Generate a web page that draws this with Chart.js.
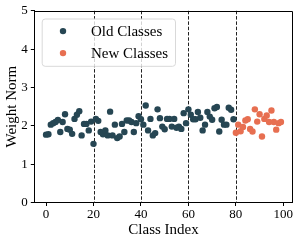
<!DOCTYPE html>
<html>
<head>
<meta charset="utf-8">
<script src="https://cdn.jsdelivr.net/npm/chart.js@4/dist/chart.umd.min.js"></script>
<style>
  body { margin: 0; background: #fff; }
  canvas { display: block; }
</style>
</head>
<body>
<canvas id="chart" width="299" height="243"></canvas>
<script>
// Weight norm of each class head, old classes 0-79, new classes 80-99
const oldNorms = [
    1.77, 1.78, 2.03, 2.07, 2.10, 2.15, 1.84, 2.10, 2.30, 1.92,
    1.90, 1.79, 2.18, 2.29, 2.38, 1.75, 2.05, 2.05, 1.88, 2.11,
    1.53, 2.18, 2.13, 1.84, 1.78, 1.88, 1.75, 2.37, 1.75, 2.03,
    1.68, 1.72, 2.05, 1.84, 2.14, 2.14, 2.10, 1.84, 2.07, 2.25,
    2.17, 2.03, 2.53, 1.88, 2.18, 1.75, 1.81, 2.43, 2.20, 1.98,
    1.91, 2.18, 2.18, 1.98, 2.18, 1.95, 1.98, 1.92, 2.33, 2.07,
    2.43, 2.29, 2.17, 2.17, 2.36, 2.21, 1.88, 2.03, 2.36, 2.24,
    2.16, 2.46, 2.49, 1.85, 2.16, 2.03, 2.03, 2.47, 2.42, 2.17
];
const newNorms = [
    1.82, 2.03, 1.86, 1.97, 2.14, 2.17, 1.92, 1.85, 2.43, 2.11,
    2.30, 1.72, 2.18, 2.27, 2.10, 2.40, 2.10, 1.90, 2.07, 2.10
];
const seriesLabels = ["Old Classes", "New Classes"];
const seriesColors = ["#264653", "#e76f51"];
const taskBoundaries = [20, 40, 60, 80];
const xTicks = [0, 20, 40, 60, 80, 100];
const yTicks = [0, 1, 2, 3, 4, 5];

const FONT = "'Liberation Serif', 'DejaVu Serif', serif";

const oldPoints = oldNorms.map((v, i) => ({x: i, y: v}));
const newPoints = newNorms.map((v, i) => ({x: oldNorms.length + i, y: v}));

// dashed task boundaries + top/right spines + legend box
const extras = {
    id: "extras",
    beforeDatasetsDraw(chart) {
        const {ctx, chartArea: a, scales: {x}} = chart;
        ctx.save();
        ctx.strokeStyle = "#222";
        ctx.lineWidth = 1;
        ctx.setLineDash([3.5, 1.8]);
        taskBoundaries.forEach(v => {
            const px = Math.round(x.getPixelForValue(v)) + 0.5;
            ctx.beginPath();
            ctx.moveTo(px, a.top);
            ctx.lineTo(px, a.bottom);
            ctx.stroke();
        });
        ctx.restore();
    },
    afterDraw(chart) {
        const {ctx, chartArea: a} = chart;
        ctx.save();
        ctx.strokeStyle = "#000";
        ctx.lineWidth = 1;
        ctx.beginPath();
        ctx.moveTo(Math.round(a.left) + 0.5, Math.round(a.top) + 0.5);
        ctx.lineTo(Math.round(a.right) - 0.5, Math.round(a.top) + 0.5);
        ctx.lineTo(Math.round(a.right) - 0.5, Math.round(a.bottom));
        ctx.stroke();

        // legend
        const lx = a.left + 7.4, ly = a.top + 7.7, lw = 133.3, lh = 47.3;
        ctx.fillStyle = "rgba(255,255,255,0.8)";
        ctx.strokeStyle = "#d9d9d9";
        ctx.beginPath();
        ctx.roundRect(lx + 0.5, ly + 0.5, lw, lh, 3);
        ctx.fill();
        ctx.stroke();
        ctx.font = "15px " + FONT;
        ctx.textBaseline = "middle";
        seriesLabels.forEach((label, i) => {
            const cy = a.top + 20.3 + i * 22;
            ctx.fillStyle = seriesColors[i];
            ctx.beginPath();
            ctx.arc(a.left + 28.7, cy, 3.2, 0, Math.PI * 2);
            ctx.fill();
            ctx.fillStyle = "#000";
            ctx.fillText(label, a.left + 56.7, cy + 1);
        });
        ctx.restore();
    }
};

new Chart(document.getElementById("chart"), {
    type: "scatter",
    data: {
        datasets: [
            {label: seriesLabels[0], data: oldPoints, backgroundColor: seriesColors[0]},
            {label: seriesLabels[1], data: newPoints, backgroundColor: seriesColors[1]},
        ],
    },
    options: {
        responsive: false,
        animation: false,
        layout: {padding: {top: 10, right: 6.3, left: 0, bottom: 0}},
        elements: {point: {radius: 3.2, borderWidth: 0, hoverRadius: 3.2}},
        plugins: {legend: {display: false}, tooltip: {enabled: false}},
        scales: {
            x: {
                type: "linear",
                min: -4.95,
                max: 103.95,
                afterBuildTicks: s => { s.ticks = xTicks.map(v => ({value: v})); },
                afterFit: s => { s.height = 40.5; },
                border: {display: true, color: "#000", width: 1},
                grid: {drawOnChartArea: false, color: "#000", tickLength: 3.5},
                ticks: {color: "#000", font: {family: FONT, size: 13}, padding: 1, maxRotation: 0},
                title: {display: true, text: "Class Index", color: "#000",
                        font: {family: FONT, size: 15}, padding: {top: 0, bottom: 4}},
            },
            y: {
                min: 0,
                max: 5,
                afterBuildTicks: s => { s.ticks = yTicks.map(v => ({value: v})); },
                afterFit: s => { s.width = 34.3; },
                border: {display: true, color: "#000", width: 1},
                grid: {drawOnChartArea: false, color: "#000", tickLength: 3.5},
                ticks: {color: "#000", font: {family: FONT, size: 13}, padding: 3},
                title: {display: true, text: "Weight Norm", color: "#000",
                        font: {family: FONT, size: 15}, padding: {top: 3, bottom: 0}},
            },
        },
    },
    plugins: [extras],
});
</script>
</body>
</html>
